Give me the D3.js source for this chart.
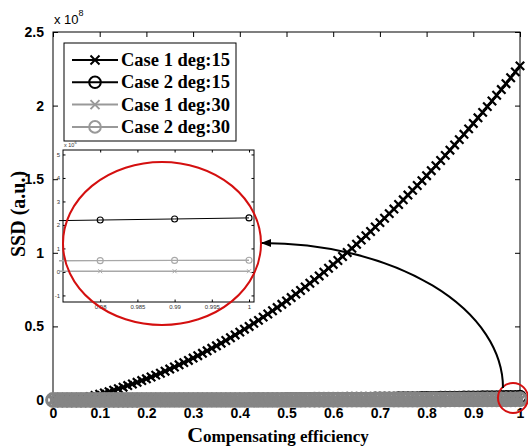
<!DOCTYPE html>
<html>
<head>
<meta charset="utf-8">
<script src="https://cdn.jsdelivr.net/npm/d3@7/dist/d3.min.js"></script>
<style>
  body { margin: 0; background: #fff; }
  svg { display: block; }
</style>
</head>
<body>
<div id="chart"></div>
<script>
// SSD values sampled every 0.01 of compensating efficiency (0 .. 1)
// Case 1 deg:15, in units of 1e8
const case1Deg15 = [
  0, 0.001, 0.002, 0.003, 0.004, 0.006, 0.008, 0.015, 0.022, 0.031,
  0.039, 0.048, 0.057, 0.067, 0.077, 0.087, 0.098, 0.109, 0.120, 0.132,
  0.144, 0.156, 0.169, 0.182, 0.196, 0.210, 0.224, 0.239, 0.254, 0.269,
  0.285, 0.301, 0.317, 0.334, 0.351, 0.368, 0.386, 0.404, 0.423, 0.442,
  0.461, 0.481, 0.500, 0.521, 0.541, 0.563, 0.584, 0.606, 0.628, 0.650,
  0.673, 0.696, 0.720, 0.744, 0.768, 0.793, 0.817, 0.843, 0.868, 0.895,
  0.921, 0.948, 0.975, 1.002, 1.030, 1.058, 1.087, 1.116, 1.145, 1.175,
  1.205, 1.235, 1.266, 1.297, 1.328, 1.360, 1.392, 1.424, 1.457, 1.490,
  1.524, 1.558, 1.592, 1.627, 1.662, 1.697, 1.733, 1.769, 1.805, 1.842,
  1.879, 1.917, 1.954, 1.993, 2.031, 2.070, 2.109, 2.149, 2.189, 2.229,
  2.270
]
// Case 2 deg:15, in units of 1e6
const case2Deg15 = [
  0, 0, 0.001, 0.002, 0.004, 0.006, 0.008, 0.011, 0.015, 0.019,
  0.023, 0.028, 0.033, 0.039, 0.045, 0.052, 0.059, 0.066, 0.075, 0.083,
  0.092, 0.101, 0.111, 0.122, 0.132, 0.144, 0.155, 0.168, 0.180, 0.193,
  0.207, 0.221, 0.236, 0.250, 0.266, 0.282, 0.298, 0.315, 0.332, 0.350,
  0.368, 0.387, 0.406, 0.425, 0.445, 0.466, 0.487, 0.508, 0.530, 0.552,
  0.575, 0.598, 0.622, 0.646, 0.671, 0.696, 0.721, 0.747, 0.774, 0.801,
  0.828, 0.856, 0.884, 0.913, 0.942, 0.972, 1.002, 1.032, 1.064, 1.095,
  1.127, 1.159, 1.192, 1.226, 1.259, 1.294, 1.328, 1.364, 1.399, 1.435,
  1.472, 1.509, 1.547, 1.584, 1.623, 1.662, 1.701, 1.741, 1.781, 1.822,
  1.863, 1.905, 1.947, 1.989, 2.032, 2.076, 2.120, 2.164, 2.209, 2.254,
  2.300
]
// Case 1 deg:30, in units of 1e6
const case1Deg30 = [
  0, 0, 0, 0, 0, 0, 0, 0, 0, 0,
  0, 0, 0, 0, 0, 0, 0, 0, 0, 0,
  0, 0, 0, 0, 0, 0, 0, 0, 0, 0,
  0, 0, 0, 0, 0, 0, 0, 0, 0, 0,
  0, 0.01, 0.01, 0.01, 0.01, 0.01, 0.01, 0.01, 0.01, 0.01,
  0.01, 0.01, 0.01, 0.01, 0.01, 0.01, 0.01, 0.01, 0.01, 0.01,
  0.01, 0.01, 0.01, 0.01, 0.01, 0.01, 0.01, 0.01, 0.01, 0.01,
  0.01, 0.02, 0.02, 0.02, 0.02, 0.02, 0.02, 0.02, 0.02, 0.02,
  0.02, 0.02, 0.02, 0.02, 0.02, 0.02, 0.02, 0.02, 0.02, 0.02,
  0.02, 0.02, 0.03, 0.03, 0.03, 0.03, 0.03, 0.03, 0.03, 0.03,
  0.03
]
// Case 2 deg:30, in units of 1e6
const case2Deg30 = [
  0, 0, 0, 0, 0.001, 0.001, 0.002, 0.002, 0.003, 0.004,
  0.005, 0.006, 0.007, 0.008, 0.010, 0.011, 0.013, 0.014, 0.016, 0.018,
  0.020, 0.022, 0.024, 0.026, 0.029, 0.031, 0.034, 0.036, 0.039, 0.042,
  0.045, 0.048, 0.051, 0.054, 0.058, 0.061, 0.065, 0.068, 0.072, 0.076,
  0.080, 0.084, 0.088, 0.092, 0.097, 0.101, 0.106, 0.110, 0.115, 0.120,
  0.125, 0.130, 0.135, 0.140, 0.146, 0.151, 0.157, 0.162, 0.168, 0.174,
  0.180, 0.186, 0.192, 0.198, 0.205, 0.211, 0.218, 0.224, 0.231, 0.238,
  0.245, 0.252, 0.259, 0.266, 0.274, 0.281, 0.289, 0.296, 0.304, 0.312,
  0.320, 0.328, 0.336, 0.344, 0.353, 0.361, 0.370, 0.378, 0.387, 0.396,
  0.405, 0.414, 0.423, 0.432, 0.442, 0.451, 0.461, 0.470, 0.480, 0.490,
  0.500
]
const effGrid = case1Deg15.map((d, i) => i / 100)

const xTicks = [0, 0.1, 0.2, 0.3, 0.4, 0.5, 0.6, 0.7, 0.8, 0.9, 1]
const yTicks = [0, 0.5e8, 1e8, 1.5e8, 2e8, 2.5e8]
const insetXTicks = [0.98, 0.985, 0.99, 0.995, 1]
const insetYTicks = [-1e6, 0, 1e6, 2e6, 3e6, 4e6, 5e6]
const legendLabels = ['Case 1 deg:15', 'Case 2 deg:15', 'Case 1 deg:30', 'Case 2 deg:30']

const W = 528, H = 446
const SANS = "'Liberation Sans', Arial, sans-serif"
const SERIF = "'Liberation Serif', 'Times New Roman', serif"
const GRAY = '#858585'

const series = [
  { name: legendLabels[0], vals: case1Deg15.map(v => v * 1e8), color: '#000', marker: 'x' },
  { name: legendLabels[1], vals: case2Deg15.map(v => v * 1e6), color: '#000', marker: 'o' },
  { name: legendLabels[2], vals: case1Deg30.map(v => v * 1e6), color: GRAY, marker: 'x' },
  { name: legendLabels[3], vals: case2Deg30.map(v => v * 1e6), color: GRAY, marker: 'o' },
]
series.forEach(s => { s.pts = effGrid.map((x, i) => [x, s.vals[i]]) })

const svg = d3.select('#chart').append('svg')
  .attr('width', W).attr('height', H)
  .style('background', '#fff')

const box = { l: 53, r: 520, t: 32, b: 400 }
const x = d3.scaleLinear().domain([0, 1]).range([box.l, box.r])
const y = d3.scaleLinear().domain([0, 2.5e8]).range([box.b, box.t])

const xMark = s => `M${-s},${-s}L${s},${s}M${-s},${s}L${s},${-s}`

function drawMarkers(g, s, sx, sy, size, sw, data) {
  const sel = g.append('g')
    .selectAll('.m')
    .data(data)
    .enter()
  if (s.marker === 'x') {
    sel.append('path')
      .attr('d', xMark(size))
      .attr('transform', d => `translate(${sx(d[0])},${sy(d[1])})`)
      .attr('stroke', s.color).attr('stroke-width', sw).attr('fill', 'none')
  } else {
    sel.append('circle')
      .attr('cx', d => sx(d[0])).attr('cy', d => sy(d[1])).attr('r', size)
      .attr('stroke', s.color).attr('stroke-width', sw).attr('fill', 'none')
  }
}

// axes box with inward ticks
const axes = svg.append('g')
axes.append('rect')
  .attr('x', box.l).attr('y', box.t)
  .attr('width', box.r - box.l).attr('height', box.b - box.t)
  .attr('fill', '#fff').attr('stroke', '#000').attr('stroke-width', 1)

axes.append('g').attr('transform', `translate(0,${box.b})`)
  .call(d3.axisBottom(x).tickValues(xTicks).tickSize(-5).tickPadding(8).tickFormat(d3.format('')))
axes.append('g').attr('transform', `translate(0,${box.t})`)
  .call(d3.axisTop(x).tickValues(xTicks).tickSize(-5).tickFormat(''))
axes.append('g').attr('transform', `translate(${box.l},0)`)
  .call(d3.axisLeft(y).tickValues(yTicks).tickSize(-5).tickPadding(9).tickFormat(d => d / 1e8))
axes.append('g').attr('transform', `translate(${box.r},0)`)
  .call(d3.axisRight(y).tickValues(yTicks).tickSize(-5).tickFormat(''))
axes.selectAll('.domain').remove()
axes.selectAll('.tick line').attr('stroke', '#000')
axes.selectAll('.tick text')
  .attr('font-family', SANS).attr('font-weight', 'bold').attr('fill', '#000')
  .attr('font-size', 14)

const expo = svg.append('text')
  .attr('x', box.l + 1).attr('y', 24)
  .attr('font-family', SANS).attr('font-size', 13).attr('fill', '#000')
expo.append('tspan').text('x 10')
expo.append('tspan').attr('dy', -8).attr('font-size', 9).text('8')

// series
const plot = svg.append('g')
const line = (sx, sy) => d3.line().x(d => sx(d[0])).y(d => sy(d[1]))
series.forEach((s, i) => {
  const g = plot.append('g')
  g.append('path')
    .attr('d', line(x, y)(s.pts))
    .attr('fill', 'none').attr('stroke', s.color)
    .attr('stroke-width', i === 0 ? 2.5 : 2)
  if (s.marker === 'x') drawMarkers(g, s, x, y, i === 0 ? 4.2 : 5, i === 0 ? 2.2 : 2.6, s.pts)
  else if (i === 1) drawMarkers(g, s, x, y, 6, 1.6, s.pts)
  else drawMarkers(g, s, x, y, 6.4, 3, s.pts)
})

// labels
svg.append('text')
  .attr('transform', `translate(25,${(box.t + box.b) / 2 - 2}) rotate(-90)`)
  .attr('text-anchor', 'middle')
  .attr('font-family', SERIF).attr('font-weight', 'bold').attr('font-size', 20)
  .text('SSD (a.u.)')

const xl = svg.append('text')
  .attr('x', 278).attr('y', 442).attr('text-anchor', 'middle')
  .attr('font-family', SERIF).attr('font-weight', 'bold').attr('font-size', 17)
xl.append('tspan').attr('font-size', 22).text('C')
xl.append('tspan').text('ompensating efficiency')

// legend
const lg = svg.append('g')
lg.append('rect')
  .attr('x', 64).attr('y', 43).attr('width', 172).attr('height', 98)
  .attr('fill', '#fff').attr('stroke', '#000').attr('stroke-width', 1)
series.forEach((s, i) => {
  const ly = 60 + i * 22.3
  const c = s.color === GRAY ? '#999' : s.color
  lg.append('line')
    .attr('x1', 72).attr('x2', 118).attr('y1', ly).attr('y2', ly)
    .attr('stroke', c).attr('stroke-width', 2)
  if (s.marker === 'x') {
    lg.append('path').attr('d', xMark(4.5)).attr('transform', `translate(95,${ly})`)
      .attr('stroke', c).attr('stroke-width', 2).attr('fill', 'none')
  } else {
    lg.append('circle').attr('cx', 95).attr('cy', ly).attr('r', 5.8)
      .attr('stroke', c).attr('stroke-width', 2).attr('fill', 'none')
  }
  lg.append('text')
    .attr('x', 121).attr('y', ly + 6)
    .attr('font-family', SERIF).attr('font-weight', 'bold').attr('font-size', 18.5)
    .text(s.name)
})

// inset zoom on efficiency near 1
const ib = { l: 63, r: 254, t: 150, b: 302 }
const ix = d3.scaleLinear().domain([0.975, 1.00067]).range([ib.l, ib.r])
const iy = d3.scaleLinear().domain([-1.28e6, 5.19e6]).range([ib.b, ib.t])
const inset = svg.append('g')
inset.append('rect')
  .attr('x', ib.l).attr('y', ib.t)
  .attr('width', ib.r - ib.l).attr('height', ib.b - ib.t)
  .attr('fill', '#fff').attr('stroke', '#000').attr('stroke-width', 1)
svg.append('clipPath').attr('id', 'insetclip')
  .append('rect')
  .attr('x', ib.l - 4).attr('y', ib.t)
  .attr('width', ib.r - ib.l + 8).attr('height', ib.b - ib.t)

const iax = inset.append('g')
iax.append('g').attr('transform', `translate(0,${ib.b})`)
  .call(d3.axisBottom(ix).tickValues(insetXTicks).tickSize(-2.5).tickPadding(3).tickFormat(d3.format('')))
iax.append('g').attr('transform', `translate(0,${ib.t})`)
  .call(d3.axisTop(ix).tickValues(insetXTicks).tickSize(-2.5).tickFormat(''))
iax.append('g').attr('transform', `translate(${ib.l},0)`)
  .call(d3.axisLeft(iy).tickValues(insetYTicks).tickSize(-2.5).tickPadding(3).tickFormat(d => d / 1e6))
iax.append('g').attr('transform', `translate(${ib.r},0)`)
  .call(d3.axisRight(iy).tickValues(insetYTicks).tickSize(-2.5).tickFormat(''))
iax.selectAll('.domain').remove()
iax.selectAll('.tick line').attr('stroke', '#000')
iax.selectAll('.tick text')
  .attr('font-family', SANS).attr('font-size', 6).attr('fill', '#333')

const iexpo = inset.append('text')
  .attr('x', ib.l + 1).attr('y', ib.t - 3)
  .attr('font-family', SANS).attr('font-size', 5.5).attr('fill', '#333')
iexpo.append('tspan').text('x 10')
iexpo.append('tspan').attr('dy', -3).attr('font-size', 4).text('6')

const iplot = inset.append('g').attr('clip-path', 'url(#insetclip)')
const inRange = d => d[0] >= 0.97
series.forEach((s, i) => {
  const g = iplot.append('g')
  const c = s.color === GRAY ? '#a8a8a8' : '#000'
  const ss = Object.assign({}, s, { color: c })
  g.append('path')
    .attr('d', line(ix, iy)(s.pts.filter(inRange)))
    .attr('fill', 'none').attr('stroke', c).attr('stroke-width', i === 1 ? 1 : 1.4)
  const pts = s.pts.filter(d => d[0] >= 0.975)
  if (s.marker === 'x') drawMarkers(g, ss, ix, iy, 2, 1, pts)
  else drawMarkers(g, ss, ix, iy, 3, 1.1, pts)
})

// annotations
const RED = '#d40f0f'
svg.append('ellipse')
  .attr('cx', 162).attr('cy', 243.5).attr('rx', 99).attr('ry', 81.5)
  .attr('fill', 'none').attr('stroke', RED).attr('stroke-width', 2)
svg.append('circle')
  .attr('cx', 513).attr('cy', 398).attr('r', 15)
  .attr('fill', 'none').attr('stroke', RED).attr('stroke-width', 2)

svg.append('defs').append('marker')
  .attr('id', 'head').attr('viewBox', '0 0 10 8')
  .attr('refX', 9).attr('refY', 4)
  .attr('markerWidth', 10).attr('markerHeight', 8)
  .attr('markerUnits', 'userSpaceOnUse').attr('orient', 'auto')
  .append('path').attr('d', 'M0,0L10,4L0,8Z').attr('fill', '#000')
svg.append('path')
  .attr('d', 'M503,388 A241,145 0 0 0 262,243')
  .attr('fill', 'none').attr('stroke', '#000').attr('stroke-width', 2)
  .attr('marker-end', 'url(#head)')
</script>
</body>
</html>
